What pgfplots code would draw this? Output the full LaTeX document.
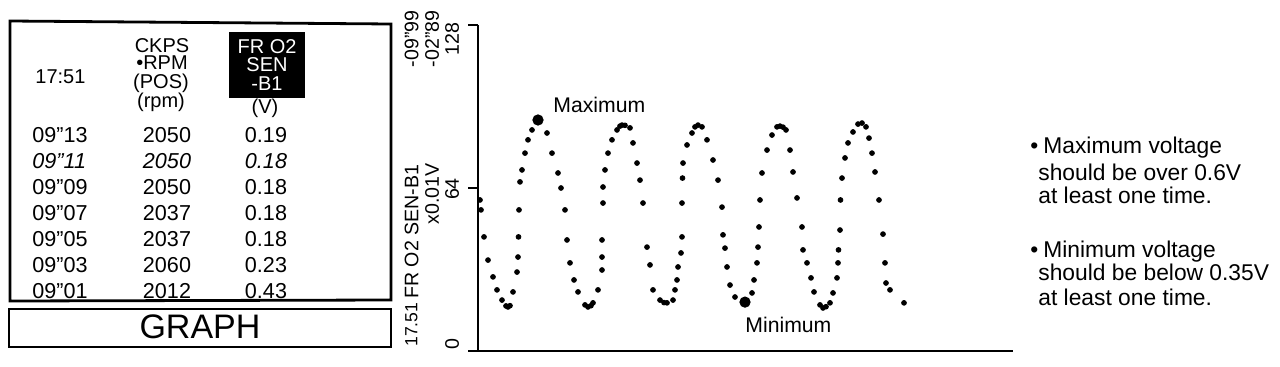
\documentclass[border=0pt]{standalone}
\usepackage{pgfplots}
\pgfplotsset{compat=1.18}
\usepackage{fontspec}
\setmainfont{Liberation Sans}[Ligatures=ResetAll]
\begin{document}
\begin{tikzpicture}
\useasboundingbox (0,0) rectangle (640pt,183pt);
\begin{axis}[
  at={(239pt,7.5pt)}, anchor=south west, scale only axis,
  width=267.5pt, height=163pt,
  xmin=0, xmax=535, ymin=0, ymax=128,
  axis x line*=bottom, axis y line*=left,
  axis line style={line width=1.4pt, black},
  xtick=\empty, ytick={0,64,128}, yticklabels={},
  tick align=outside, major tick length=5pt,
  tick style={line width=1.4pt, black},
  clip=false,
]
\addplot[only marks, mark=*, mark size=1.2pt, black] coordinates {
(2,59.3) (3,55.4) (6,44.8) (10,35.7) (15,29.1) (19,24.0) (24,20.0) (28,17.7) (30,17.3) (32,17.8)
(35,23.2) (39,31.0) (40,36.9) (40.5,44.8) (41,55.4) (42,66.4) (44,71.1) (47,77.7) (50,82.9) (54,86.8)
(69,85.6) (74,77.7) (80,69.9) (83,64.0) (87,55.4) (89,43.6) (92,34.6) (96,27.9) (100,23.2) (107,18.1) (110,17.3) (113,17.8)
(115,18.9) (120,24.0) (124,31.8) (124,36.9) (124,43.6) (125,58.1) (125,64.4) (127,71.1) (130,77.7) (134,82.9) (139,86.8) (142,88.3) (144,88.7) (147,88.6)
(152,87.6) (155,81.7) (159,73.8) (162,67.1) (165,58.1) (169,40.8) (172,33.8) (175,24.0) (182,20.0) (186,19.0) (189,18.9)
(195,20.0) (197,24.0) (199,27.9) (200,33.0) (203,38.5) (204,44.8) (204,58.1) (204.5,67.9) (205,73.8) (209,80.9) (214,85.6) (217,88.0) (220,88.7) (224,88.0)
(229,82.9) (235,75.0) (240,67.1) (244,56.5) (245,45.6) (247,40.4) (249,33.0) (252,25.9) (257,21.2)
(274,22.8) (276,27.9) (279,34.6) (280,40.8) (281,48.7) (282,59.3) (284,69.9) (289,78.9) (294,84.8) (299,88.0) (302,88.3) (305,87.9)
(308,86.8) (312,78.9) (315,70.3) (319,60.1) (324,48.7) (325,39.7) (329,34.6) (333,28.7) (336,23.2) (342,18.1) (345,16.9) (348,17.4)
(352,18.9) (355,22.8) (359,28.7) (360,34.6) (360.5,39.7) (362,47.5) (362.5,59.3) (364,67.9) (367,75.8) (370,81.7) (375,86.0) (380,89.1) (384,89.5)
(388,88.0) (391,83.6) (394,77.7) (397,70.3) (401,59.3) (405,45.9) (407,34.6) (408,26.7) (412,24.0) (426,18.9)
};
\addplot[only marks, mark=*, mark size=2.6pt, black] coordinates {(60,90.7) (267,19.2)};
\end{axis}
\begin{scope}[x=0.5pt, y=-0.5pt, shift={(0,183pt)}]
  % table frame
  \draw[line width=1.4pt] (10,21) -- (391,24) -- (391,300) -- (10,301) -- cycle;
  \draw[line width=1.4pt] (9,309) rectangle (391,347);
  \node[anchor=base, inner sep=0, font=\fontsize{17}{20}\selectfont] at (200,338) {GRAPH};
  % header
  \begin{scope}[every node/.style={inner sep=0, font=\fontsize{10}{11}\selectfont}]
    \node[anchor=base west] at (35,83) {17:51};
    \node[anchor=base] at (162,52) {CKPS};
    \node[anchor=base] at (162,69) {•RPM};
    \node[anchor=base] at (161,88) {(POS)};
    \node[anchor=base] at (161,107) {(rpm)};
    \fill[black] (229,32) rectangle (305,98);
    \node[anchor=base, text=white] at (267,53) {FR O2};
    \node[anchor=base, text=white] at (267,71) {SEN};
    \node[anchor=base, text=white] at (267,90) {-B1};
    \node[anchor=base] at (265,113) {(V)};
  \end{scope}
  \begin{scope}[every node/.style={inner sep=0, font=\fontsize{10.8}{12}\selectfont}]
    % rows
    \node[anchor=base west] at (32,142) {09"13};
    \node[anchor=base] at (167,142) {2050};
    \node[anchor=base] at (266,142) {0.19};
    \node[anchor=base west] at (32,168) {\itshape 09"11};
    \node[anchor=base] at (167,168) {\itshape 2050};
    \node[anchor=base] at (266,168) {\itshape 0.18};
    \node[anchor=base west] at (32,194) {09"09};
    \node[anchor=base] at (167,194) {2050};
    \node[anchor=base] at (266,194) {0.18};
    \node[anchor=base west] at (32,220) {09"07};
    \node[anchor=base] at (167,220) {2037};
    \node[anchor=base] at (266,220) {0.18};
    \node[anchor=base west] at (32,246) {09"05};
    \node[anchor=base] at (167,246) {2037};
    \node[anchor=base] at (266,246) {0.18};
    \node[anchor=base west] at (32,272) {09"03};
    \node[anchor=base] at (167,272) {2060};
    \node[anchor=base] at (266,272) {0.23};
    \node[anchor=base west] at (32,298) {09"01};
    \node[anchor=base] at (167,298) {2012};
    \node[anchor=base] at (266,298) {0.43};
  \end{scope}
  % rotated axis texts
  \begin{scope}[every node/.style={inner sep=0, rotate=90, font=\fontsize{9.8}{11}\selectfont}]
    \node[anchor=east] at (411.5,10) {-09"99};
    \node[anchor=west] at (411.5,299) {FR O2 SEN-B1};
    \node[anchor=west, font=\fontsize{8.8}{10}\selectfont] at (411.5,347) {17.51};
    \node[anchor=east] at (432,10) {-02"89};
    \node[anchor=west] at (432,225) {x0.01V};
    \node[anchor=east] at (452,22) {128};
    \node[anchor=center] at (452,189) {64};
    \node[anchor=west] at (452,350) {0};
  \end{scope}
  % point labels
  \node[anchor=base west, inner sep=0, font=\fontsize{10.6}{12}\selectfont] at (553,112) {Maximum};
  \node[anchor=base west, inner sep=0, font=\fontsize{10.6}{12}\selectfont] at (745,332) {Minimum};
  % notes
  \begin{scope}[every node/.style={anchor=base west, inner sep=0, font=\fontsize{11.4}{13}\selectfont}]
    \node at (1030,153) {•\hspace{2.5pt}Maximum voltage};
    \node at (1038,180) {should be over 0.6V};
    \node at (1038,203) {at least one time.};
    \node at (1030,257) {•\hspace{2.5pt}Minimum voltage};
    \node at (1038,280) {should be below 0.35V};
    \node at (1038,305) {at least one time.};
  \end{scope}
\end{scope}
\end{tikzpicture}
\end{document}
